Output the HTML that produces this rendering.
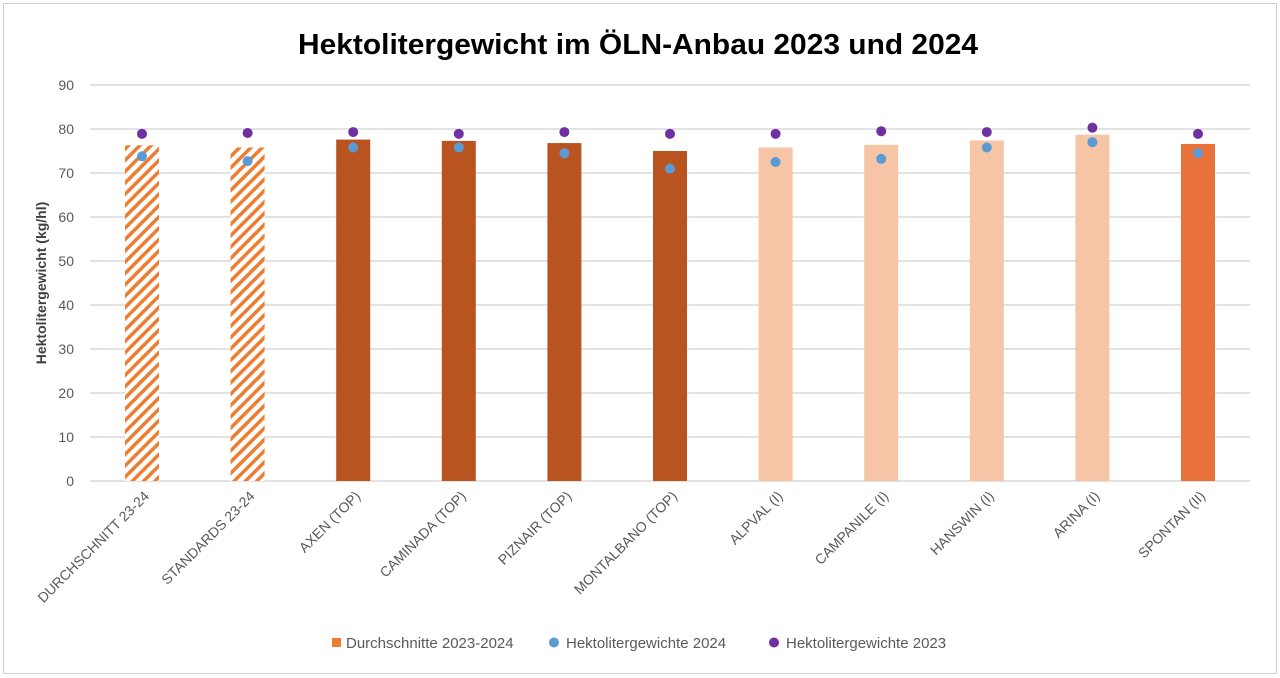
<!DOCTYPE html>
<html><head><meta charset="utf-8"><style>body{margin:0;background:#fff}svg{display:block}</style></head><body>
<svg width="1280" height="678" xmlns="http://www.w3.org/2000/svg" font-family="Liberation Sans, sans-serif">
<defs><pattern id="h" width="8" height="8" patternUnits="userSpaceOnUse" patternTransform="rotate(45)"><rect width="8" height="8" fill="#fff"/><rect width="3.5" height="8" fill="#ED7D31"/></pattern></defs>
<rect x="3.5" y="3.5" width="1273" height="670" fill="#fff" stroke="#d0d0d0"/>
<text x="638" y="54" text-anchor="middle" font-size="29" font-weight="bold" fill="#000" textLength="680" lengthAdjust="spacingAndGlyphs">Hektolitergewicht im ÖLN-Anbau 2023 und 2024</text>
<g stroke="#d9d9d9" stroke-width="1.5">
<line x1="90" x2="1250" y1="481" y2="481"/><line x1="90" x2="1250" y1="437" y2="437"/><line x1="90" x2="1250" y1="393" y2="393"/><line x1="90" x2="1250" y1="349" y2="349"/><line x1="90" x2="1250" y1="305" y2="305"/><line x1="90" x2="1250" y1="261" y2="261"/><line x1="90" x2="1250" y1="217" y2="217"/><line x1="90" x2="1250" y1="173" y2="173"/><line x1="90" x2="1250" y1="129" y2="129"/><line x1="90" x2="1250" y1="85" y2="85"/>
</g>
<g font-size="14" fill="#595959" text-anchor="end">
<text x="74" y="486">0</text><text x="74" y="442">10</text><text x="74" y="398">20</text><text x="74" y="354">30</text><text x="74" y="310">40</text><text x="74" y="266">50</text><text x="74" y="222">60</text><text x="74" y="178">70</text><text x="74" y="134">80</text><text x="74" y="90">90</text>
</g>
<text transform="translate(46,283) rotate(-90)" text-anchor="middle" font-size="14" font-weight="bold" fill="#404040">Hektolitergewicht (kg/hl)</text>
<g id="bars"></g>
<g id="pts"></g>
<g id="lbl" font-size="14" fill="#595959" text-anchor="end"></g>
<g font-size="15" fill="#595959">
<rect x="332" y="638" width="9" height="9" fill="#ED7D31"/><text x="346" y="648">Durchschnitte 2023-2024</text>
<circle cx="554" cy="642.5" r="5" fill="#5B9BD5"/><text x="566" y="648">Hektolitergewichte 2024</text>
<circle cx="774" cy="642.5" r="5" fill="#7030A0"/><text x="786" y="648">Hektolitergewichte 2023</text>
</g>
<script>
var ns="http://www.w3.org/2000/svg";
var names=["DURCHSCHNITT 23-24","STANDARDS 23-24","AXEN (TOP)","CAMINADA (TOP)","PIZNAIR  (TOP)","MONTALBANO (TOP)","ALPVAL (I)","CAMPANILE (I)","HANSWIN (I)","ARINA (I)","SPONTAN (II)"];
var bar=[76.3,75.8,77.6,77.3,76.8,75.0,75.8,76.4,77.4,78.7,76.6];
var b24=[73.8,72.7,75.8,75.8,74.5,71.0,72.5,73.2,75.8,77.0,74.5];
var b23=[78.9,79.1,79.3,78.9,79.3,78.9,78.9,79.5,79.3,80.3,78.9];
var col=["url(#h)","url(#h)","#B9531F","#B9531F","#B9531F","#B9531F","#F6C5A6","#F6C5A6","#F6C5A6","#F6C5A6","#E8723A"];
function Y(v){return 481-v*4.4}
function el(t,a,p){var e=document.createElementNS(ns,t);for(var k in a)e.setAttribute(k,a[k]);document.getElementById(p).appendChild(e);return e}
for(var i=0;i<11;i++){var cx=142+i*105.6;
el("rect",{x:cx-17,y:Y(bar[i]),width:34,height:bar[i]*4.4,fill:col[i]},"bars");
el("circle",{cx:cx,cy:Y(b24[i]),r:5,fill:"#5B9BD5"},"pts");
el("circle",{cx:cx,cy:Y(b23[i]),r:5,fill:"#7030A0"},"pts");
var t=el("text",{transform:"translate("+(cx+8)+",497) rotate(-45)"},"lbl");t.textContent=names[i];}
</script>
</svg>
</body></html>
